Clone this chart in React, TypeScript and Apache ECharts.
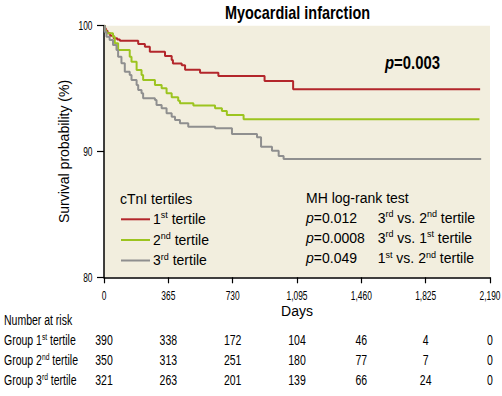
import React, { useEffect, useRef } from "react";
import * as echarts from "echarts";

// ---- Data ----
const dayTicks = [0, 365, 730, 1095, 1460, 1825, 2190];
const yTicks = [80, 90, 100];
const groupOrdinals = ["1", "2", "3"];
const groupSuffixes = ["st", "nd", "rd"];
const seriesColors = ["#b3262b", "#9cc41f", "#8f8f8f"];

const riskTertile1 = [390, 338, 172, 104, 46, 4, 0];
const riskTertile2 = [350, 313, 251, 180, 77, 7, 0];
const riskTertile3 = [321, 263, 201, 139, 66, 24, 0];

const survivalTertile1: [number, number][] = [
  [0, 100], [5, 99.8], [10, 99.6], [20, 99.4], [35, 99.2], [55, 99.0], [75, 98.9],
  [90, 98.8], [194, 98.55], [232, 98.33], [260, 97.93], [346, 97.6], [384, 97.27],
  [391, 97.0], [441, 96.85], [460, 96.5], [545, 96.26], [649, 96.0], [911, 95.6],
  [1073, 94.95], [2134, 94.95],
];
const survivalTertile2: [number, number][] = [
  [0, 100], [5, 99.6], [14, 99.4], [51, 99.13], [61, 98.6], [80, 98.07], [146, 97.54],
  [156, 97.14], [185, 96.48], [213, 96.08], [222, 95.68], [289, 95.28], [327, 95.02],
  [355, 94.63], [384, 94.31], [421, 94.04], [431, 93.83], [507, 93.65], [630, 93.43],
  [669, 93.22], [697, 92.9], [792, 92.56], [2130, 92.56],
];
const survivalTertile3: [number, number][] = [
  [0, 100], [5, 99.5], [14, 99.13], [32, 98.86], [51, 98.47], [71, 98.07], [80, 97.54],
  [99, 97.01], [118, 96.34], [146, 96.08], [156, 95.68], [185, 95.28], [194, 94.88],
  [213, 94.63], [222, 94.23], [289, 94.09], [298, 93.7], [327, 93.43], [355, 93.04],
  [384, 92.77], [403, 92.5], [431, 92.24], [478, 91.97], [630, 91.84], [726, 91.39],
  [868, 91.13], [891, 90.38], [953, 90.06], [991, 89.64], [1019, 89.4], [2140, 89.4],
];

const pValueOverall = "0.003";
const mhTests = [
  { p: "0.012", a: 2, b: 1 },
  { p: "0.0008", a: 2, b: 0 },
  { p: "0.049", a: 0, b: 1 },
];

// ---- Styles ----
const SANS = '"Liberation Sans", Arial, Helvetica, sans-serif';

const ord = (i: number) => `{m|${groupOrdinals[i]}}{s|${groupSuffixes[i]}}`;

function richFor(size: number, supSize: number, lh: number, weight = "normal") {
  return {
    m: { fontFamily: SANS, fontSize: size, fontWeight: weight, fill: "#000", lineHeight: lh },
    s: { fontFamily: SANS, fontSize: supSize, fontWeight: weight, fill: "#000", lineHeight: supSize, verticalAlign: "top" },
    i: { fontFamily: SANS, fontSize: size, fontWeight: weight, fill: "#000", lineHeight: lh, fontStyle: "italic" },
  };
}

function txt(x: number, y: number, text: string, opts: any = {}) {
  const align = opts.align || "left";
  const va = opts.va || "middle";
  return {
    type: "text",
    x,
    y,
    rotation: opts.rotation || 0,
    scaleX: opts.sx || 1,
    silent: true,
    style: {
      text,
      fontFamily: SANS,
      fontSize: opts.size || 14,
      fontWeight: opts.weight || "normal",
      fill: "#000",
      align,
      textAlign: align,
      verticalAlign: va,
      textVerticalAlign: va,
      rich: opts.rich,
    },
  };
}

export default function App() {
  const ref = useRef<HTMLDivElement>(null);

  useEffect(() => {
    if (!ref.current) return;
    const chart = echarts.init(ref.current, undefined, { renderer: "svg" });
    const allSurvival = [survivalTertile1, survivalTertile2, survivalTertile3];

    chart.setOption({
      animation: false,
      grid: {
        left: 104,
        right: 12,
        top: 25.7,
        bottom: 118.7,
        show: true,
        backgroundColor: "#f2eede",
        borderWidth: 0,
      },
      xAxis: {
        type: "value",
        min: dayTicks[0],
        max: dayTicks[dayTicks.length - 1],
        interval: dayTicks[1] - dayTicks[0],
        axisLine: { show: true, onZero: false, lineStyle: { color: "#000", width: 1.5 } },
        axisTick: { show: true, inside: false, length: 6, lineStyle: { color: "#000", width: 1.2 } },
        axisLabel: { show: false },
        splitLine: { show: false },
      },
      yAxis: {
        type: "value",
        min: yTicks[0],
        max: yTicks[yTicks.length - 1],
        interval: yTicks[1] - yTicks[0],
        axisLine: { show: true, onZero: false, lineStyle: { color: "#000", width: 1.5 } },
        axisTick: { show: true, inside: false, length: 7, lineStyle: { color: "#000", width: 1.2 } },
        axisLabel: { show: false },
        splitLine: { show: false },
      },
      series: allSurvival.map((d, i) => ({
        type: "line",
        step: "end",
        symbol: "none",
        data: d,
        lineStyle: { color: seriesColors[i], width: 2 },
        itemStyle: { color: seriesColors[i] },
        silent: true,
      })),
    });

    const px = (d: number) => chart.convertToPixel({ xAxisIndex: 0 }, d) as number;
    const py = (v: number) => chart.convertToPixel({ yAxisIndex: 0 }, v) as number;
    const g: any[] = [];

    // axis tick labels (condensed look via scaleX)
    dayTicks.forEach((d) => {
      g.push(txt(px(d), 295.5, d.toLocaleString("en-US"), { size: 12, align: "center", sx: 0.7 }));
    });
    yTicks.forEach((v) => {
      g.push(txt(92.5, py(v) + 0.5, String(v), { size: 12, align: "right", sx: 0.7 }));
    });

    // title
    g.push(txt(297.5, 12.5, "Myocardial infarction", { size: 18.5, weight: "bold", align: "center", sx: 0.78 }));
    // y axis name
    g.push(txt(64, 151.5, "Survival probability (%)", { size: 14, align: "center", rotation: Math.PI / 2 }));
    // overall p
    g.push(
      txt(385, 63, `{i|p}{m|=${pValueOverall}}`, {
        size: 17.5,
        weight: "bold",
        sx: 0.85,
        rich: richFor(17.5, 10, 19, "bold"),
      })
    );

    // legend
    const legendRows = [218.8, 239.5, 260];
    g.push(txt(120, 199, "cTnI tertiles", { size: 14 }));
    legendRows.forEach((y, i) => {
      g.push({
        type: "line",
        silent: true,
        shape: { x1: 121, y1: y + 0.5, x2: 150, y2: y + 0.5 },
        style: { stroke: seriesColors[i], lineWidth: 2 },
      });
      g.push(txt(153, y, `${ord(i)}{m| tertile}`, { size: 14, rich: richFor(14, 9, 16) }));
    });

    // MH log-rank
    const mhRows = [217.5, 237.8, 258];
    g.push(txt(306, 198.3, "MH log-rank test", { size: 14 }));
    mhTests.forEach((t, i) => {
      g.push(txt(306, mhRows[i], `{i|p}{m|=${t.p}}`, { size: 14, rich: richFor(14, 9, 16) }));
      g.push(
        txt(377.7, mhRows[i], `${ord(t.a)}{m| vs. }${ord(t.b)}{m| tertile}`, {
          size: 14,
          rich: richFor(14, 9, 16),
        })
      );
    });

    // Days
    g.push(txt(px(dayTicks[3]), 310.5, "Days", { size: 14, align: "center" }));

    // Number at risk table
    g.push(txt(4, 320.5, "Number at risk", { size: 14, sx: 0.75 }));
    const risks = [riskTertile1, riskTertile2, riskTertile3];
    const rowY = [340.5, 360.5, 380.5];
    risks.forEach((row, i) => {
      g.push(
        txt(4, rowY[i], `{m|Group }${ord(i)}{m| tertile}`, {
          size: 14,
          sx: 0.75,
          rich: richFor(14, 9, 16),
        })
      );
      row.forEach((n, j) => {
        g.push(txt(px(dayTicks[j]), rowY[i], String(n), { size: 14, align: "center", sx: 0.75 }));
      });
    });

    chart.setOption({ graphic: { elements: g } });

    return () => chart.dispose();
  }, []);

  return (
    <div
      ref={ref}
      style={{ position: "fixed", left: 0, top: 0, width: 502, height: 396, background: "#fff" }}
    />
  );
}
